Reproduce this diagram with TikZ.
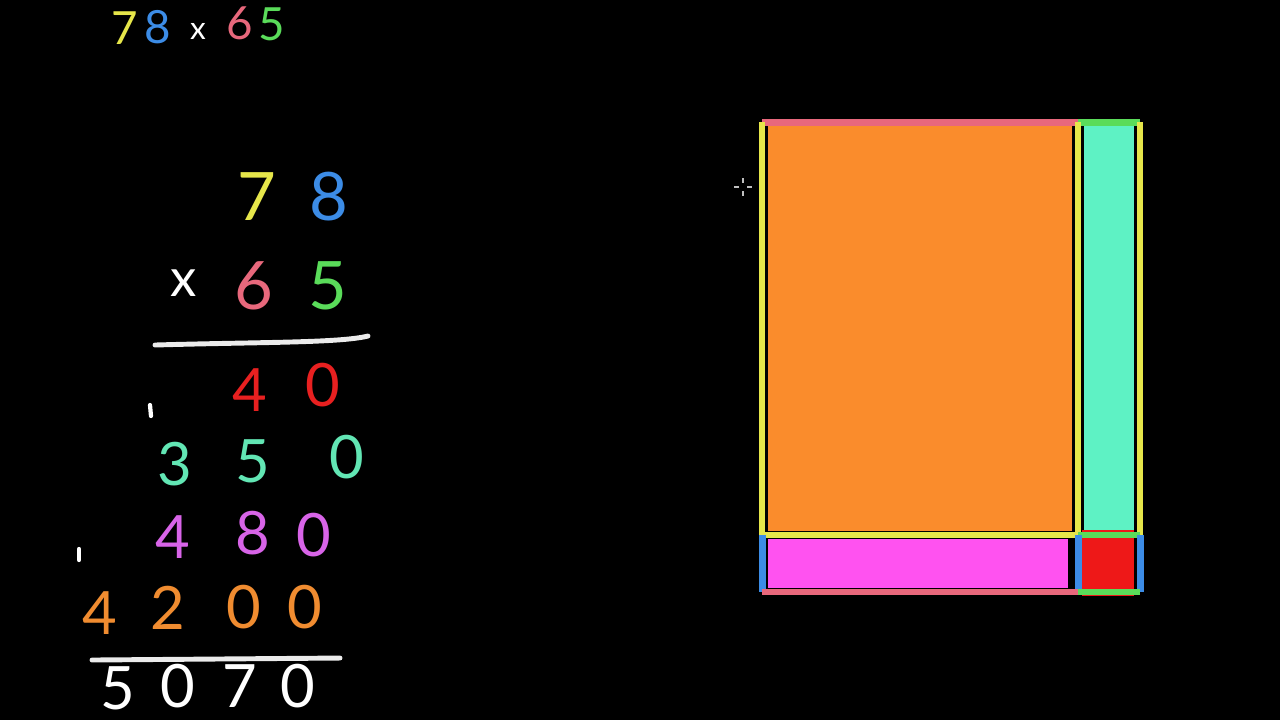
\documentclass[tikz,border=0pt]{standalone}
\usepackage{fontspec}
\setmainfont{Lato}
\usepackage{tikz}
\usepackage{xcolor}
\usetikzlibrary{positioning}
\definecolor{chalkyellow}{HTML}{E6E64A}
\definecolor{chalkblue}{HTML}{3C8CE6}
\definecolor{chalkpink}{HTML}{E8687C}
\definecolor{chalkgreen}{HTML}{5ADC5A}
\definecolor{chalkred}{HTML}{E82020}
\definecolor{chalkteal}{HTML}{62E6B4}
\definecolor{chalkmagenta}{HTML}{D864E8}
\definecolor{chalkorange}{HTML}{F08C30}
\definecolor{fillorange}{HTML}{FA8C2C}
\definecolor{fillteal}{HTML}{5EF2C4}
\definecolor{fillpink}{HTML}{FF52F0}
\definecolor{fillred}{HTML}{EE1818}

\begin{document}
\begin{tikzpicture}[x=0.01cm,y=-0.01cm,
  digit/.style={font=\fontsize{19}{19}\selectfont,inner sep=0pt,anchor=center},
  partial/.style={font=\fontsize{17}{17}\selectfont,inner sep=0pt,anchor=center},
  small/.style={font=\fontsize{13}{13}\selectfont,inner sep=0pt,anchor=center},
  rulelines/.style={draw=white!92!black,line width=1.4pt,line cap=round},
  carry/.style={draw=white,line width=1.2pt,line cap=round}]
  \fill[black] (0,0) rectangle (1280,720);
  \useasboundingbox (0,0) rectangle (1280,720);

  % the problem in small
  \node[small,text=chalkyellow] (s7) at (125,28) {7};
  \node[small,text=chalkblue] (s8) at (158,27) {8};
  \node[small,text=white,font=\fontsize{9}{9}\selectfont] (sx) at (198,31) {x};
  \node[small,text=chalkpink] (s6) at (240,23) {6};
  \node[small,text=chalkgreen] (s5) at (272,24) {5};

  % factors
  \node[digit,text=chalkyellow] (a7) at (257,197) {7};
  \node[digit,text=chalkblue] (a8) at (329,197) {8};
  \node[digit,text=white,font=\fontsize{15}{15}\selectfont] (bx) at (184,283) {x};
  \node[digit,text=chalkpink] (b6) at (254,286) {6};
  \node[digit,text=chalkgreen] (b5) at (328,286) {5};
  \draw[rulelines] (155,345) .. controls (260,342) and (340,343) .. (368,336);

  % partial products
  \draw[carry] (150,405) -- (151,416);
  \node[partial,text=chalkred] (p40a) at (250,390) {4};
  \node[partial,text=chalkred] (p40b) at (323,385) {0};
  \node[partial,text=chalkteal] (p350a) at (175,464) {3};
  \node[partial,text=chalkteal] (p350b) at (253,461) {5};
  \node[partial,text=chalkteal] (p350c) at (347,457) {0};
  \node[partial,text=chalkmagenta] (p480a) at (173,537) {4};
  \node[partial,text=chalkmagenta] (p480b) at (253,533) {8};
  \node[partial,text=chalkmagenta] (p480c) at (314,535) {0};
  \draw[carry] (79,549) -- (79,560);
  \node[partial,text=chalkorange] (p4200a) at (100,613) {4};
  \node[partial,text=chalkorange] (p4200b) at (168,608) {2};
  \node[partial,text=chalkorange] (p4200c) at (244,607) {0};
  \node[partial,text=chalkorange] (p4200d) at (305,607) {0};
  \draw[rulelines] (92,660) -- (340,658);

  % result
  \node[partial,text=white] (r5) at (118,688) {5};
  \node[partial,text=white] (r0a) at (178,686) {0};
  \node[partial,text=white] (r7) at (240,686) {7};
  \node[partial,text=white] (r0b) at (298,686) {0};

  % area model
  \coordinate (tl) at (762,122);
  \coordinate (tm) at (1078,122);
  \coordinate (tr) at (1140,122);
  \coordinate (ml) at (762,535);
  \coordinate (mm) at (1078,535);
  \coordinate (mr) at (1140,535);
  \coordinate (bl) at (762,592);
  \coordinate (bm) at (1078,592);
  \coordinate (br) at (1140,592);
  \fill[fillorange] (768,126) rectangle (1072,531);
  \fill[fillteal] (1084,126) rectangle (1134,531);
  \fill[fillpink] (768,539) rectangle (1068,588);
  \fill[fillred] (1082,530) rectangle (1134,596);
  \draw[chalkpink,line width=2pt] (tl) -- (tm);
  \draw[chalkgreen,line width=2pt] (tm) -- (tr);
  \draw[chalkyellow,line width=1.6pt] (tl) -- (ml) (tm) -- (mm) (tr) -- (mr);
  \draw[chalkyellow,line width=1.6pt] (ml) -- (mm);
  \draw[chalkgreen,line width=1.6pt] (mm) -- (mr);
  \draw[chalkblue,line width=2pt] (ml) -- (bl) (mm) -- (bm) (mr) -- (br);
  \draw[chalkpink,line width=1.6pt] (bl) -- (bm);
  \draw[chalkgreen,line width=1.6pt] (bm) -- (br);

  % pointer
  \draw[white!75!black,line width=0.6pt] (743,178) -- (743,183) (743,191) -- (743,196)
    (734,187) -- (739,187) (747,187) -- (752,187);
\end{tikzpicture}
\end{document}
